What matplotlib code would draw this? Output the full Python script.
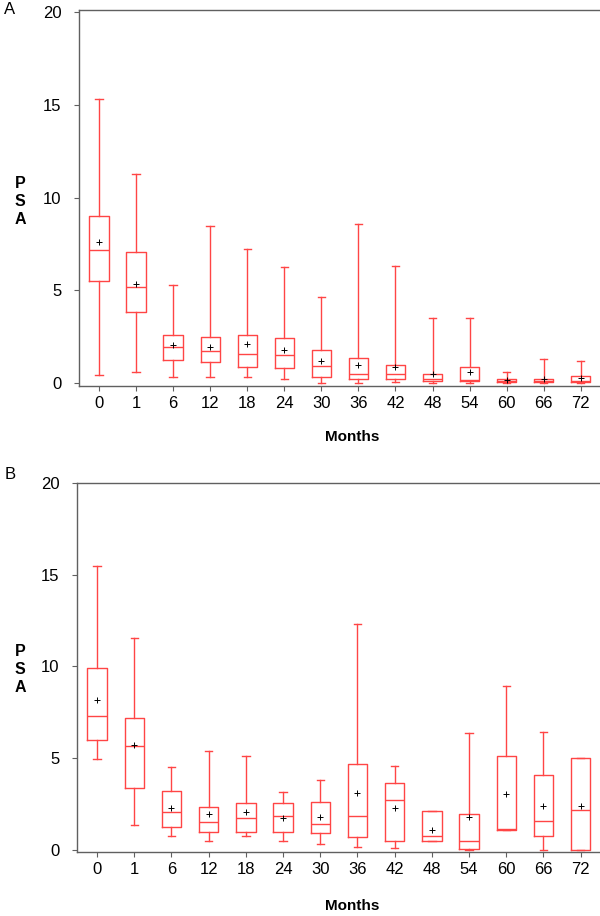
import matplotlib
matplotlib.use("Agg")
import matplotlib.pyplot as plt

plt.rcParams['font.family'] = ['Liberation Sans', 'DejaVu Sans']

months = ['0', '1', '6', '12', '18', '24', '30', '36', '42', '48', '54', '60', '66', '72']

# panel A
a_lo   = [0.43, 0.59, 0.31, 0.31, 0.31, 0.22, 0.00, 0.00, 0.07, 0.00, 0.00, 0.02, 0.02, 0.02]
a_q1   = [5.49, 3.84, 1.24, 1.15, 0.88, 0.81, 0.34, 0.22, 0.22, 0.14, 0.11, 0.05, 0.05, 0.05]
a_med  = [7.18, 5.19, 1.94, 1.72, 1.60, 1.51, 0.92, 0.48, 0.48, 0.22, 0.16, 0.11, 0.11, 0.11]
a_mean = [7.58, 5.35, 2.05, 1.97, 2.10, 1.81, 1.17, 0.99, 0.86, 0.50, 0.63, 0.18, 0.22, 0.27]
a_q3   = [8.98, 7.06, 2.59, 2.50, 2.59, 2.46, 1.78, 1.35, 0.97, 0.48, 0.88, 0.25, 0.22, 0.38]
a_hi   = [15.33, 11.29, 5.31, 8.49, 7.25, 6.28, 4.63, 8.60, 6.30, 3.50, 3.50, 0.63, 1.29, 1.18]

# panel B
b_lo   = [4.95, 1.36, 0.73, 0.45, 0.75, 0.47, 0.31, 0.15, 0.07, 0.47, 0.00, 1.09, 0.00, 0.00]
b_q1   = [5.98, 3.36, 1.22, 0.98, 0.98, 0.98, 0.89, 0.69, 0.45, 0.47, 0.04, 1.09, 0.75, 0.00]
b_med  = [7.29, 5.64, 2.05, 1.51, 1.73, 1.82, 1.40, 1.82, 2.73, 0.73, 0.45, 1.11, 1.55, 2.18]
b_mean = [8.16, 5.69, 2.29, 1.93, 2.07, 1.73, 1.76, 3.11, 2.29, 1.09, 1.76, 3.05, 2.38, 2.40]
b_q3   = [9.89, 7.16, 3.18, 2.33, 2.55, 2.55, 2.60, 4.67, 3.64, 2.11, 1.95, 5.09, 4.05, 4.98]
b_hi   = [15.45, 11.55, 4.53, 5.38, 5.09, 3.15, 3.80, 12.31, 4.56, 2.11, 6.36, 8.91, 6.44, 4.98]

red = '#ff4545'
spine = '#606060'


def draw(ax, lo, q1, med, mean, q3, hi):
    stats = []
    for i in range(len(months)):
        stats.append({'whislo': lo[i], 'q1': q1[i], 'med': med[i], 'mean': mean[i],
                      'q3': q3[i], 'whishi': hi[i], 'label': months[i]})
    ax.bxp(stats, positions=range(len(months)), widths=0.52, showmeans=True,
           showfliers=False,
           boxprops=dict(color=red, lw=1.0),
           medianprops=dict(color=red, lw=1.0),
           whiskerprops=dict(color=red, lw=1.0),
           capprops=dict(color=red, lw=1.0),
           capwidths=0.2,
           meanprops=dict(marker='+', markeredgecolor='black', markersize=4.5, markeredgewidth=0.7))
    ax.set_xlim(-0.54, 13.52)
    ax.set_yticks([0, 5, 10, 15, 20])
    ax.spines['right'].set_visible(False)
    for s in ['left', 'bottom', 'top']:
        ax.spines[s].set_color(spine)
        ax.spines[s].set_linewidth(1.0)
    ax.tick_params(axis='both', colors=spine, labelcolor='black', labelsize=12, length=3.5)
    ax.tick_params(axis='y', pad=9)
    ax.tick_params(axis='x', pad=4)


fig = plt.figure(figsize=(6, 9.16), dpi=100)

axA = fig.add_axes([79 / 600, 1 - 386 / 916, 1 - 79 / 600, 376 / 916])
draw(axA, a_lo, a_q1, a_med, a_mean, a_q3, a_hi)
axA.set_ylim(-0.15, 20.1)

axB = fig.add_axes([77 / 600, 1 - 852 / 916, 1 - 77 / 600, 369 / 916])
draw(axB, b_lo, b_q1, b_med, b_mean, b_q3, b_hi)
axB.set_ylim(-0.13, 20)

# panel letters and axis labels
fig.text(10 / 600, 1 - 10 / 916, 'A', fontsize=12, ha='center', va='center')
fig.text(10 / 600, 1 - 474 / 916, 'B', fontsize=12, ha='center', va='center')
fig.text(20 / 600, 1 - 201 / 916, 'P\nS\nA', fontsize=11.5, fontweight='bold',
         ha='center', va='center', linespacing=1.25)
fig.text(20 / 600, 1 - 669 / 916, 'P\nS\nA', fontsize=11.5, fontweight='bold',
         ha='center', va='center', linespacing=1.25)
fig.text(352 / 600, 1 - 437 / 916, 'Months', fontsize=11, fontweight='bold',
         ha='center', va='center')
fig.text(352 / 600, 1 - 906 / 916, 'Months', fontsize=11, fontweight='bold',
         ha='center', va='center')

fig.savefig('out.png', dpi=100)
